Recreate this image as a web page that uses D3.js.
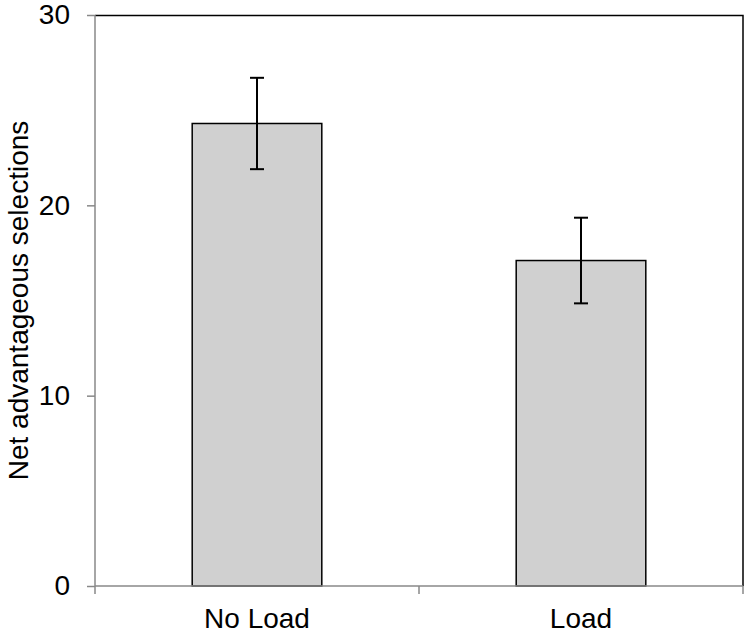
<!DOCTYPE html>
<html>
<head>
<meta charset="utf-8">
<script src="https://cdn.jsdelivr.net/npm/d3@7"></script>
<style>
  body { margin: 0; background: #fff; }
  svg { font-family: "Liberation Sans", Arial, sans-serif; }
</style>
</head>
<body>
<svg id="chart"></svg>
<script>
const categories = ['No Load', 'Load'];
const means = [24.3, 17.1];
const errors = [2.4, 2.25];
const yTicks = [0, 10, 20, 30];

const W = 750, H = 635;
const margin = { top: 15, right: 7, bottom: 49, left: 95 };
const width = W - margin.left - margin.right;
const height = H - margin.top - margin.bottom;
const fontSize = 28;

const svg = d3.select('#chart').attr('width', W).attr('height', H);
const g = svg.append('g')
  .attr('transform', 'translate(' + margin.left + ',' + margin.top + ')');

const x = d3.scaleBand().domain(categories).range([0, width]);
const y = d3.scaleLinear().domain([0, 30]).range([height, 0]);
const barW = x.bandwidth() * 0.4;

// frame: top and right in black
g.append('path')
  .attr('d', 'M0,0.5H' + width + 'V' + height)
  .attr('fill', 'none')
  .attr('stroke', '#000')
  .attr('stroke-width', 1.5);

// bars
g.selectAll('.bar')
  .data(categories)
  .enter().append('rect')
  .attr('class', 'bar')
  .attr('x', (d) => x(d) + (x.bandwidth() - barW) / 2)
  .attr('y', (d, i) => y(means[i]))
  .attr('width', barW)
  .attr('height', (d, i) => y(0) - y(means[i]))
  .attr('fill', '#d0d0d0')
  .attr('stroke', '#000')
  .attr('stroke-width', 1.5);

// error bars
const cap = 7;
const eb = g.selectAll('.err')
  .data(categories)
  .enter().append('g')
  .attr('class', 'err')
  .attr('stroke', '#000')
  .attr('stroke-width', 2);
eb.append('line')
  .attr('x1', (d) => x(d) + x.bandwidth() / 2)
  .attr('x2', (d) => x(d) + x.bandwidth() / 2)
  .attr('y1', (d, i) => y(means[i] + errors[i]))
  .attr('y2', (d, i) => y(means[i] - errors[i]));
eb.append('line')
  .attr('x1', (d) => x(d) + x.bandwidth() / 2 - cap)
  .attr('x2', (d) => x(d) + x.bandwidth() / 2 + cap)
  .attr('y1', (d, i) => y(means[i] + errors[i]))
  .attr('y2', (d, i) => y(means[i] + errors[i]));
eb.append('line')
  .attr('x1', (d) => x(d) + x.bandwidth() / 2 - cap)
  .attr('x2', (d) => x(d) + x.bandwidth() / 2 + cap)
  .attr('y1', (d, i) => y(means[i] - errors[i]))
  .attr('y2', (d, i) => y(means[i] - errors[i]));

// y axis
const yAxis = g.append('g')
  .attr('class', 'axis axis--y')
  .call(d3.axisLeft(y).tickValues(yTicks).tickSize(8).tickPadding(17));
yAxis.selectAll('path, line').attr('stroke', '#888').attr('stroke-width', 1.5);
yAxis.select('.domain').attr('d', 'M0,0V' + height);
yAxis.selectAll('text').attr('font-size', fontSize).attr('fill', '#000')
  .attr('font-family', '"Liberation Sans", Arial, sans-serif');

// x axis with ticks between categories
const xAxis = g.append('g')
  .attr('class', 'axis axis--x')
  .attr('transform', 'translate(0,' + height + ')');
xAxis.append('line')
  .attr('x1', 0).attr('x2', width)
  .attr('stroke', '#888').attr('stroke-width', 1.5);
const bounds = [0].concat(categories.map((d) => x(d) + x.bandwidth()));
xAxis.selectAll('.tick-b')
  .data(bounds)
  .enter().append('line')
  .attr('x1', (d) => d).attr('x2', (d) => d)
  .attr('y1', 0).attr('y2', 8)
  .attr('stroke', '#888').attr('stroke-width', 1.5);
xAxis.selectAll('.lbl')
  .data(categories)
  .enter().append('text')
  .attr('x', (d) => x(d) + x.bandwidth() / 2)
  .attr('y', 42)
  .attr('text-anchor', 'middle')
  .attr('font-size', fontSize)
  .text((d) => d);

// y label
svg.append('text')
  .attr('transform', 'translate(28,' + (margin.top + height / 2) + ') rotate(-90)')
  .attr('text-anchor', 'middle')
  .attr('font-size', fontSize)
  .text('Net advantageous selections');
</script>
</body>
</html>
